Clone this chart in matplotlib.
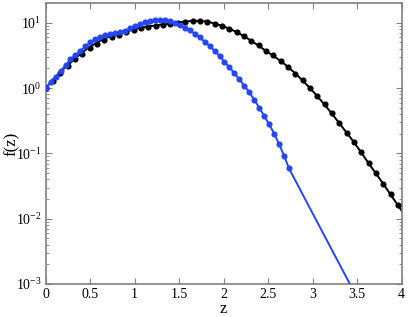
import numpy as np
import matplotlib
matplotlib.use("Agg")
import matplotlib.pyplot as plt
from matplotlib.ticker import LogLocator, NullFormatter


# =========================
# data (log10 f)
# =========================
black_z = [0.0, 0.0825, 0.165, 0.2475, 0.33, 0.4125, 0.495, 0.5775, 0.66, 0.7425,
           0.825, 0.9075, 0.99, 1.0725, 1.155, 1.2375, 1.32, 1.4025, 1.485, 1.5675,
           1.65, 1.7325, 1.815, 1.8975, 1.98, 2.0625, 2.145, 2.2275, 2.31, 2.3925,
           2.475, 2.5575, 2.64, 2.7225, 2.805, 2.8875, 2.97, 3.0525, 3.135, 3.2175,
           3.30, 3.3825, 3.465, 3.5475, 3.63, 3.7125, 3.795, 3.8775, 3.96]

black_line_log = [0.0, 0.13, 0.25, 0.35, 0.45, 0.55, 0.63, 0.70, 0.76, 0.80,
                  0.84, 0.87, 0.90, 0.925, 0.945, 0.96, 0.975, 0.99, 1.005, 1.02,
                  1.03, 1.03, 1.02, 0.99, 0.955, 0.91, 0.86, 0.795, 0.725, 0.65,
                  0.57, 0.495, 0.415, 0.325, 0.225, 0.115, 0.0, -0.125, -0.255, -0.395,
                  -0.54, -0.685, -0.83, -0.99, -1.155, -1.31, -1.47, -1.635, -1.80]

black_dot_log = [0.0, 0.11, 0.23, 0.34, 0.44, 0.53, 0.61, 0.68, 0.74, 0.78,
                 0.82, 0.855, 0.89, 0.915, 0.935, 0.955, 0.972, 0.988, 1.003, 1.02,
                 1.032, 1.032, 1.018, 0.988, 0.951, 0.911, 0.86, 0.795, 0.722, 0.656,
                 0.569, 0.504, 0.417, 0.325, 0.224, 0.122, -0.005, -0.122, -0.249, -0.387,
                 -0.539, -0.682, -0.824, -0.982, -1.15, -1.303, -1.466, -1.623, -1.797]

black_end_z = 4.0
black_end_log = -1.88

blue_z = [0.0, 0.056, 0.112, 0.167, 0.223, 0.279, 0.335, 0.391, 0.446, 0.502,
          0.558, 0.614, 0.670, 0.725, 0.781, 0.837, 0.893, 0.949, 1.004, 1.060,
          1.116, 1.172, 1.228, 1.283, 1.339, 1.395, 1.451, 1.507, 1.562, 1.618,
          1.674, 1.730, 1.786, 1.841, 1.897, 1.953, 2.009, 2.065, 2.120, 2.176,
          2.232, 2.288, 2.344, 2.399, 2.455, 2.511, 2.567, 2.623, 2.678, 2.734]

blue_log = [0.0, 0.09, 0.175, 0.26, 0.35, 0.44, 0.51, 0.57, 0.64, 0.70,
            0.75, 0.79, 0.815, 0.83, 0.845, 0.86, 0.875, 0.92, 0.955, 0.985,
            1.01, 1.027, 1.036, 1.039, 1.036, 1.024, 1.0, 0.966, 0.925, 0.884,
            0.835, 0.777, 0.713, 0.645, 0.572, 0.49, 0.405, 0.318, 0.228, 0.135,
            0.038, -0.065, -0.18, -0.30, -0.425, -0.555, -0.695, -0.86, -1.035, -1.23]

# straight exponential tail of the blue curve past the last point
blue_tail_z = [3.0, 3.6]
blue_tail_log = [-1.92, -3.47]

x_ticks = [0, 0.5, 1, 1.5, 2, 2.5, 3, 3.5, 4]
x_ticklabels = ["0", "0.5", "1", "1.5", "2", "2.5", "3", "3.5", "4"]

BLACK = "black"
BLUE = "#2446f5"
GRAY = "#808080"

plt.rcParams["font.family"] = ["Liberation Serif", "DejaVu Serif"]
plt.rcParams["mathtext.fontset"] = "custom"
plt.rcParams["mathtext.rm"] = "Liberation Serif"
plt.rcParams["mathtext.it"] = "Liberation Serif:italic"

fig = plt.figure(figsize=(4.15, 3.17), dpi=100)
ax = fig.add_axes([0.110, 0.104, 0.858, 0.886])

ax.plot(black_z + [black_end_z], 10 ** np.array(black_line_log + [black_end_log]),
        color=BLACK, lw=1.4, zorder=2)
ax.plot(black_z, 10 ** np.array(black_dot_log), "o", color=BLACK, ms=3.4, zorder=3)

ax.plot(blue_z + blue_tail_z, 10 ** np.array(blue_log + blue_tail_log),
        color=BLUE, lw=1.4, zorder=4)
ax.plot(blue_z, 10 ** np.array(blue_log), "o", color=BLUE, ms=3.4, zorder=5)

ax.set_yscale("log")
ax.set_xlim(0, 4)
ax.set_ylim(1e-3, 20)

ax.set_xticks(x_ticks)
ax.set_xticklabels(x_ticklabels)
ax.yaxis.set_major_locator(LogLocator(base=10, numticks=10))
ax.yaxis.set_minor_locator(LogLocator(base=10, subs=np.arange(2, 10), numticks=10))
ax.yaxis.set_minor_formatter(NullFormatter())

ax.tick_params(which="both", direction="in", top=True, right=True, color=GRAY,
               labelsize=10, pad=3)
ax.tick_params(which="major", length=4, width=0.8)
ax.tick_params(which="minor", length=2, width=0.6)
for s in ax.spines.values():
    s.set_color(GRAY)
    s.set_linewidth(1.2)

ax.set_xlabel("z", fontsize=12, labelpad=0)
ax.set_ylabel("f(z)", fontsize=12)
ax.yaxis.set_label_coords(-0.072, 0.5)

fig.savefig("out.png", dpi=100)
